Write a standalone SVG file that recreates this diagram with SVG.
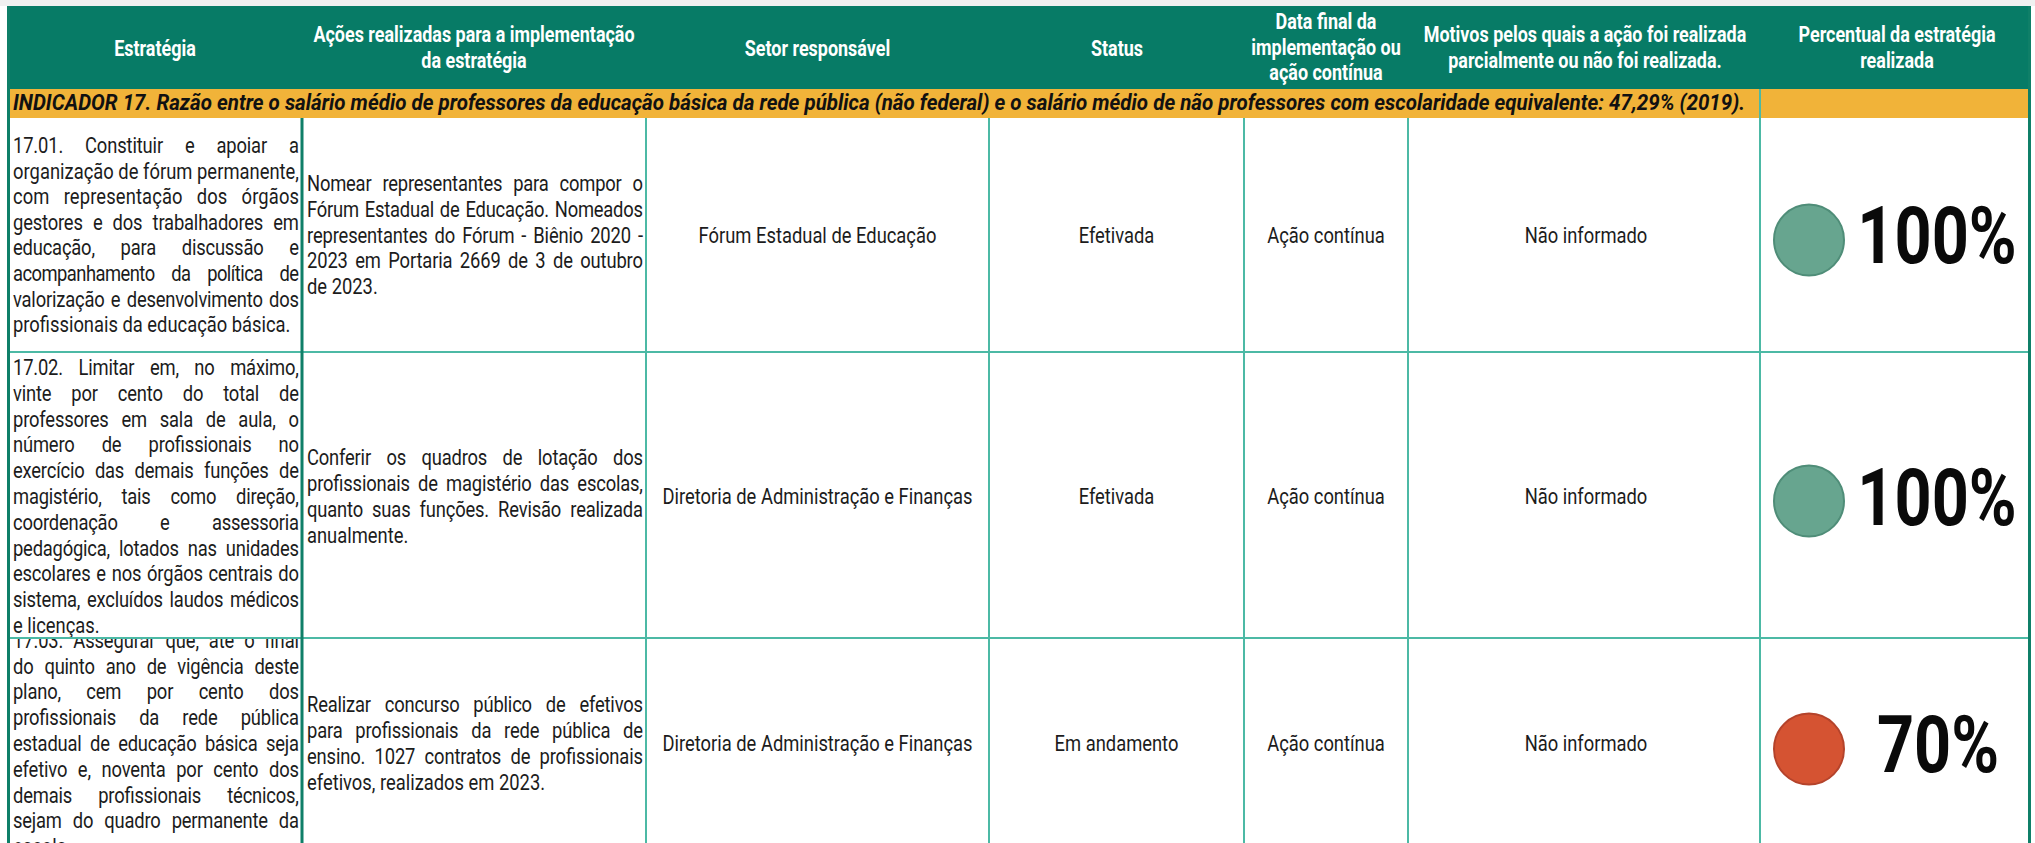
<svg xmlns="http://www.w3.org/2000/svg" width="2035" height="843" viewBox="0 0 2035 843">
<defs>
<style>
.h{font-family:Roboto,"Liberation Sans",sans-serif;font-weight:700;font-size:21.5px;fill:#ffffff;text-anchor:middle}
.b{font-family:Roboto,"Liberation Sans",sans-serif;font-size:22px;fill:#1c1c1c}
.m{text-anchor:middle}
.ind{font-family:Roboto,"Liberation Sans",sans-serif;font-weight:700;font-style:italic;font-size:22.5px;fill:#111111}
.pct{font-family:Roboto,"Liberation Sans",sans-serif;font-weight:700;font-size:79px;fill:#0a0a0a;text-anchor:middle}
.grid{stroke:#4cb9a5;stroke-width:2;fill:none}
.dark{stroke:#0f7f68;stroke-width:3;fill:none}
.cg{fill:#67a58f;stroke:#4f8d78;stroke-width:2}
.cr{fill:#d55332;stroke:#b4432b;stroke-width:2}
</style>
<clipPath id="clip3"><rect x="7" y="639" width="2024" height="204"/></clipPath>
</defs>
<rect x="0" y="0" width="2035" height="843" fill="#ffffff"/>
<rect x="0" y="0" width="2035" height="6" fill="#f0f0f0"/>

<g id="header">
<rect x="7" y="6" width="2024" height="83" fill="#077b66"/>
<g transform="translate(155 0) scale(0.835 1)"><text class="h" x="0" y="56">Estratégia</text></g>
<g transform="translate(474 0) scale(0.835 1)"><text class="h" x="0" y="42.5">Ações realizadas para a implementação</text><text class="h" x="0" y="68">da estratégia</text></g>
<g transform="translate(817.5 0) scale(0.835 1)"><text class="h" x="0" y="56">Setor responsável</text></g>
<g transform="translate(1117 0) scale(0.835 1)"><text class="h" x="0" y="56">Status</text></g>
<g transform="translate(1326 0) scale(0.835 1)"><text class="h" x="0" y="29.5">Data final da</text><text class="h" x="0" y="55">implementação ou</text><text class="h" x="0" y="80.5">ação contínua</text></g>
<g transform="translate(1585 0) scale(0.835 1)"><text class="h" x="0" y="42.5">Motivos pelos quais a ação foi realizada</text><text class="h" x="0" y="68">parcialmente ou não foi realizada.</text></g>
<g transform="translate(1897 0) scale(0.835 1)"><text class="h" x="0" y="42.5">Percentual da estratégia</text><text class="h" x="0" y="68">realizada</text></g>
</g>

<g id="indicator">
<rect x="7" y="89" width="2024" height="29" fill="#f1b339"/>
<text class="ind" x="13" y="110" textLength="1732" lengthAdjust="spacingAndGlyphs">INDICADOR 17. Razão entre o salário médio de professores da educação básica da rede pública (não federal) e o salário médio de não professores com escolaridade equivalente: 47,29% (2019).</text>
</g>

<g id="row-17-01">
<g transform="translate(13 0) scale(0.835 1)">
<text class="b" x="0" y="153" word-spacing="21" textLength="342.5" lengthAdjust="spacing">17.01. Constituir e apoiar a</text>
<text class="b" x="0" y="178.6" textLength="342.5" lengthAdjust="spacing">organização de fórum permanente,</text>
<text class="b" x="0" y="204.2" word-spacing="11.2" textLength="342.5" lengthAdjust="spacing">com representação dos órgãos</text>
<text class="b" x="0" y="229.8" word-spacing="6.9" textLength="342.5" lengthAdjust="spacing">gestores e dos trabalhadores em</text>
<text class="b" x="0" y="255.4" word-spacing="25.6" textLength="342.5" lengthAdjust="spacing">educação, para discussão e</text>
<text class="b" x="0" y="281" word-spacing="15.1" textLength="342.5" lengthAdjust="spacing">acompanhamento da política de</text>
<text class="b" x="0" y="306.6" word-spacing="2.4" textLength="342.5" lengthAdjust="spacing">valorização e desenvolvimento dos</text>
<text class="b" x="0" y="332.2">profissionais da educação básica.</text>
</g>
<g transform="translate(307 0) scale(0.835 1)">
<text class="b" x="0" y="191.4" word-spacing="7.9" textLength="402.4" lengthAdjust="spacing">Nomear representantes para compor o</text>
<text class="b" x="0" y="217" word-spacing="1.9" textLength="402.4" lengthAdjust="spacing">Fórum Estadual de Educação. Nomeados</text>
<text class="b" x="0" y="242.6" word-spacing="3.1" textLength="402.4" lengthAdjust="spacing">representantes do Fórum - Biênio 2020 -</text>
<text class="b" x="0" y="268.2" word-spacing="3.6" textLength="402.4" lengthAdjust="spacing">2023 em Portaria 2669 de 3 de outubro</text>
<text class="b" x="0" y="293.8">de 2023.</text>
</g>
<g transform="translate(817.5 0) scale(0.835 1)"><text class="b m" x="0" y="242.6">Fórum Estadual de Educação</text></g>
<g transform="translate(1116.5 0) scale(0.835 1)"><text class="b m" x="0" y="242.6">Efetivada</text></g>
<g transform="translate(1326 0) scale(0.835 1)"><text class="b m" x="0" y="242.6">Ação contínua</text></g>
<g transform="translate(1586 0) scale(0.835 1)"><text class="b m" x="0" y="242.6">Não informado</text></g>
<ellipse class="cg" cx="1809" cy="240" rx="35" ry="35.5"/>
<g transform="translate(1937 0) scale(0.82 1)"><text class="pct" x="0" y="263">100%</text></g>
</g>

<g id="row-17-02">
<g transform="translate(13 0) scale(0.835 1)">
<text class="b" x="0" y="375" word-spacing="13.3" textLength="342.5" lengthAdjust="spacing">17.02. Limitar em, no máximo,</text>
<text class="b" x="0" y="400.8" word-spacing="18.6" textLength="342.5" lengthAdjust="spacing">vinte por cento do total de</text>
<text class="b" x="0" y="426.6" word-spacing="10.1" textLength="342.5" lengthAdjust="spacing">professores em sala de aula, o</text>
<text class="b" x="0" y="452.4" word-spacing="27.2" textLength="342.5" lengthAdjust="spacing">número de profissionais no</text>
<text class="b" x="0" y="478.2" word-spacing="7.3" textLength="342.5" lengthAdjust="spacing">exercício das demais funções de</text>
<text class="b" x="0" y="504" word-spacing="18.4" textLength="342.5" lengthAdjust="spacing">magistério, tais como direção,</text>
<text class="b" x="0" y="529.8" word-spacing="45.6" textLength="342.5" lengthAdjust="spacing">coordenação e assessoria</text>
<text class="b" x="0" y="555.6" word-spacing="5.6" textLength="342.5" lengthAdjust="spacing">pedagógica, lotados nas unidades</text>
<text class="b" x="0" y="581.4" word-spacing="1.7" textLength="342.5" lengthAdjust="spacing">escolares e nos órgãos centrais do</text>
<text class="b" x="0" y="607.2" word-spacing="2.8" textLength="342.5" lengthAdjust="spacing">sistema, excluídos laudos médicos</text>
<text class="b" x="0" y="633">e licenças.</text>
</g>
<g transform="translate(307 0) scale(0.835 1)">
<text class="b" x="0" y="465.3" word-spacing="13.3" textLength="402.4" lengthAdjust="spacing">Conferir os quadros de lotação dos</text>
<text class="b" x="0" y="491.1" word-spacing="4.6" textLength="402.4" lengthAdjust="spacing">profissionais de magistério das escolas,</text>
<text class="b" x="0" y="516.9" word-spacing="5.7" textLength="402.4" lengthAdjust="spacing">quanto suas funções. Revisão realizada</text>
<text class="b" x="0" y="542.7">anualmente.</text>
</g>
<g transform="translate(817.5 0) scale(0.835 1)"><text class="b m" x="0" y="504">Diretoria de Administração e Finanças</text></g>
<g transform="translate(1116.5 0) scale(0.835 1)"><text class="b m" x="0" y="504">Efetivada</text></g>
<g transform="translate(1326 0) scale(0.835 1)"><text class="b m" x="0" y="504">Ação contínua</text></g>
<g transform="translate(1586 0) scale(0.835 1)"><text class="b m" x="0" y="504">Não informado</text></g>
<ellipse class="cg" cx="1809" cy="501" rx="35" ry="35.5"/>
<g transform="translate(1937 0) scale(0.82 1)"><text class="pct" x="0" y="525">100%</text></g>
</g>

<g id="row-17-03">
<g clip-path="url(#clip3)">
<g transform="translate(13 0) scale(0.835 1)">
<text class="b" x="0" y="647.8" word-spacing="6.6" textLength="342.5" lengthAdjust="spacing">17.03. Assegurar que, até o final</text>
<text class="b" x="0" y="673.6" word-spacing="7.9" textLength="342.5" lengthAdjust="spacing">do quinto ano de vigência deste</text>
<text class="b" x="0" y="699.4" word-spacing="25.3" textLength="342.5" lengthAdjust="spacing">plano, cem por cento dos</text>
<text class="b" x="0" y="725.2" word-spacing="22.4" textLength="342.5" lengthAdjust="spacing">profissionais da rede pública</text>
<text class="b" x="0" y="751" word-spacing="4.9" textLength="342.5" lengthAdjust="spacing">estadual de educação básica seja</text>
<text class="b" x="0" y="776.8" word-spacing="7.5" textLength="342.5" lengthAdjust="spacing">efetivo e, noventa por cento dos</text>
<text class="b" x="0" y="802.6" word-spacing="26.1" textLength="342.5" lengthAdjust="spacing">demais profissionais técnicos,</text>
<text class="b" x="0" y="828.4" word-spacing="8.1" textLength="342.5" lengthAdjust="spacing">sejam do quadro permanente da</text>
<text class="b" x="0" y="854.2">escola.</text>
</g>
</g>
<g transform="translate(307 0) scale(0.835 1)">
<text class="b" x="0" y="712.3" word-spacing="11.4" textLength="402.4" lengthAdjust="spacing">Realizar concurso público de efetivos</text>
<text class="b" x="0" y="738.1" word-spacing="10" textLength="402.4" lengthAdjust="spacing">para profissionais da rede pública de</text>
<text class="b" x="0" y="763.9" word-spacing="5.8" textLength="402.4" lengthAdjust="spacing">ensino. 1027 contratos de profissionais</text>
<text class="b" x="0" y="789.7">efetivos, realizados em 2023.</text>
</g>
<g transform="translate(817.5 0) scale(0.835 1)"><text class="b m" x="0" y="751">Diretoria de Administração e Finanças</text></g>
<g transform="translate(1116.5 0) scale(0.835 1)"><text class="b m" x="0" y="751">Em andamento</text></g>
<g transform="translate(1326 0) scale(0.835 1)"><text class="b m" x="0" y="751">Ação contínua</text></g>
<g transform="translate(1586 0) scale(0.835 1)"><text class="b m" x="0" y="751">Não informado</text></g>
<ellipse class="cr" cx="1809" cy="749" rx="35" ry="35.5"/>
<g transform="translate(1938 0) scale(0.82 1)"><text class="pct" x="0" y="772">70%</text></g>
</g>

<g id="grid">
<line class="grid" x1="7" y1="352" x2="2030" y2="352"/>
<line class="grid" x1="7" y1="638" x2="2030" y2="638"/>
<line class="grid" x1="646" y1="118" x2="646" y2="843"/>
<line class="grid" x1="989" y1="118" x2="989" y2="843"/>
<line class="grid" x1="1244" y1="118" x2="1244" y2="843"/>
<line class="grid" x1="1408" y1="118" x2="1408" y2="843"/>
<line class="grid" x1="1760" y1="89" x2="1760" y2="843"/>
<line class="dark" x1="302" y1="118" x2="302" y2="843" stroke-width="2.5"/>
<line class="dark" x1="8.5" y1="6" x2="8.5" y2="843"/>
<line class="dark" x1="2029.5" y1="6" x2="2029.5" y2="843"/>
</g>
</svg>
